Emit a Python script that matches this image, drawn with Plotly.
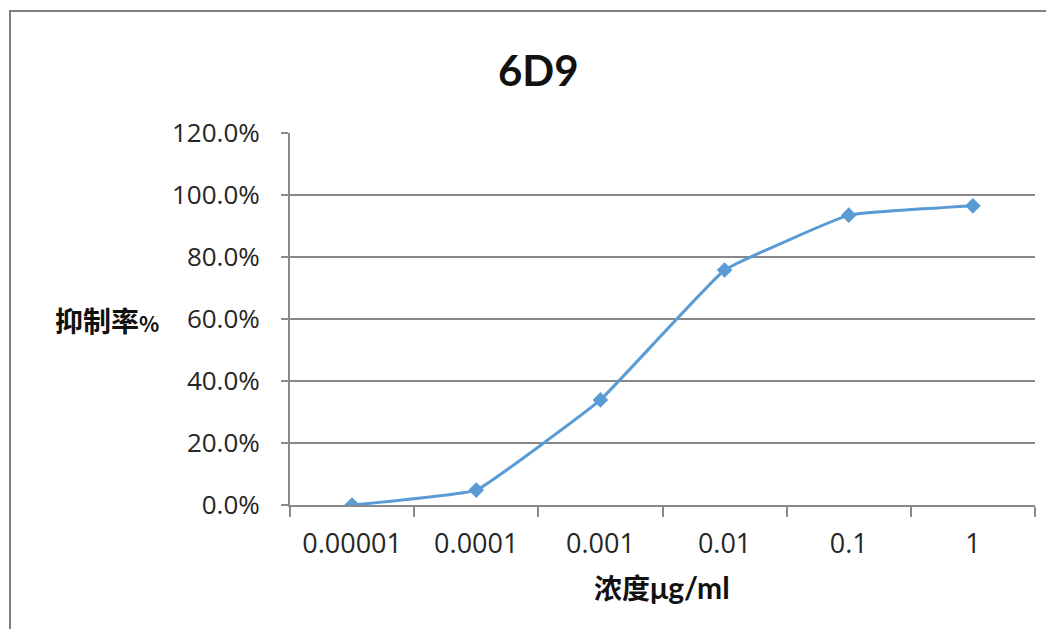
import plotly.graph_objects as go

concentrations = ["0.00001", "0.0001", "0.001", "0.01", "0.1", "1"]
inhibition = [0.0, 0.048, 0.339, 0.758, 0.935, 0.965]

title_text = "6D9"
x_title = "浓度"
x_unit = "μg/ml"
y_title = "抑制率"
y_unit = "%"

OFF = 8  # page body margin
W, H = 1038, 621
L, R, T, B = 290 - OFF, 11, 133 - OFF, 124
pw, ph = W - L - R, H - T - B

def px_to_paper_x(px):
    return (px - OFF - L) / pw

def px_to_paper_y(py):
    return (H - B - (py - OFF)) / ph

fig = go.Figure()
fig.add_trace(go.Scatter(
    x=concentrations, y=inhibition, mode="lines+markers",
    line=dict(color="#5B9BD5", width=3, shape="spline", smoothing=0.25),
    marker=dict(symbol="diamond", size=12, color="#5B9BD5"),
    showlegend=False, hoverinfo="x+y",
))

grid = "#898989"
fig.update_layout(
    width=W, height=H,
    margin=dict(l=L, r=R, t=T, b=B),
    paper_bgcolor="white", plot_bgcolor="white",
    font=dict(family="'Open Sans', 'Noto Sans CJK SC', sans-serif", size=26, color="#262626"),
    xaxis=dict(
        type="category", range=[-0.5, len(concentrations) - 0.5],
        showgrid=False, showline=True, linecolor=grid, linewidth=2,
        ticks="outside", tickson="boundaries", ticklen=10, tickcolor=grid, tickwidth=2,
        tickfont=dict(size=27, family="'Open Sans', sans-serif", color="#262626"),
        zeroline=False, ticklabelstandoff=14,
    ),
    yaxis=dict(
        range=[0, 1.2], dtick=0.2, tickformat=".1%", showgrid=True, gridcolor=grid, gridwidth=2,
        showline=True, linecolor=grid, linewidth=2, ticks="outside", ticklen=7,
        tickcolor=grid, tickwidth=2,
        tickfont=dict(size=26, family="'Open Sans', sans-serif", color="#262626"),
        zeroline=False, ticklabelstandoff=16,
    ),
    showlegend=False,
)

# outer chart border
fig.add_shape(type="rect", xref="paper", yref="paper",
              x0=px_to_paper_x(10), x1=px_to_paper_x(1100),
              y0=px_to_paper_y(700), y1=px_to_paper_y(11),
              line=dict(color="#7F7F7F", width=2), fillcolor="rgba(0,0,0,0)", layer="below")

fig.add_annotation(text="<b>" + title_text + "</b>", xref="paper", yref="paper",
                   x=px_to_paper_x(538), y=px_to_paper_y(70), showarrow=False,
                   font=dict(size=42, family="Lato, sans-serif", color="#111111"),
                   xanchor="center", yanchor="middle")
fig.add_annotation(text="<b>" + y_title + "<span style='font-size:21px'>" + y_unit + "</span></b>",
                   xref="paper", yref="paper",
                   x=px_to_paper_x(107), y=px_to_paper_y(320), showarrow=False,
                   font=dict(size=28, family="'Noto Sans CJK SC', sans-serif", color="#111111"),
                   xanchor="center", yanchor="middle")
fig.add_annotation(text="<b>" + x_title + "<span style='font-family:Lato;font-size:30px'>" + x_unit + "</span></b>",
                   xref="paper", yref="paper",
                   x=px_to_paper_x(662), y=px_to_paper_y(587), showarrow=False,
                   font=dict(size=28, family="'Noto Sans CJK SC', sans-serif", color="#111111"),
                   xanchor="center", yanchor="middle")

fig.write_html("out.html")
